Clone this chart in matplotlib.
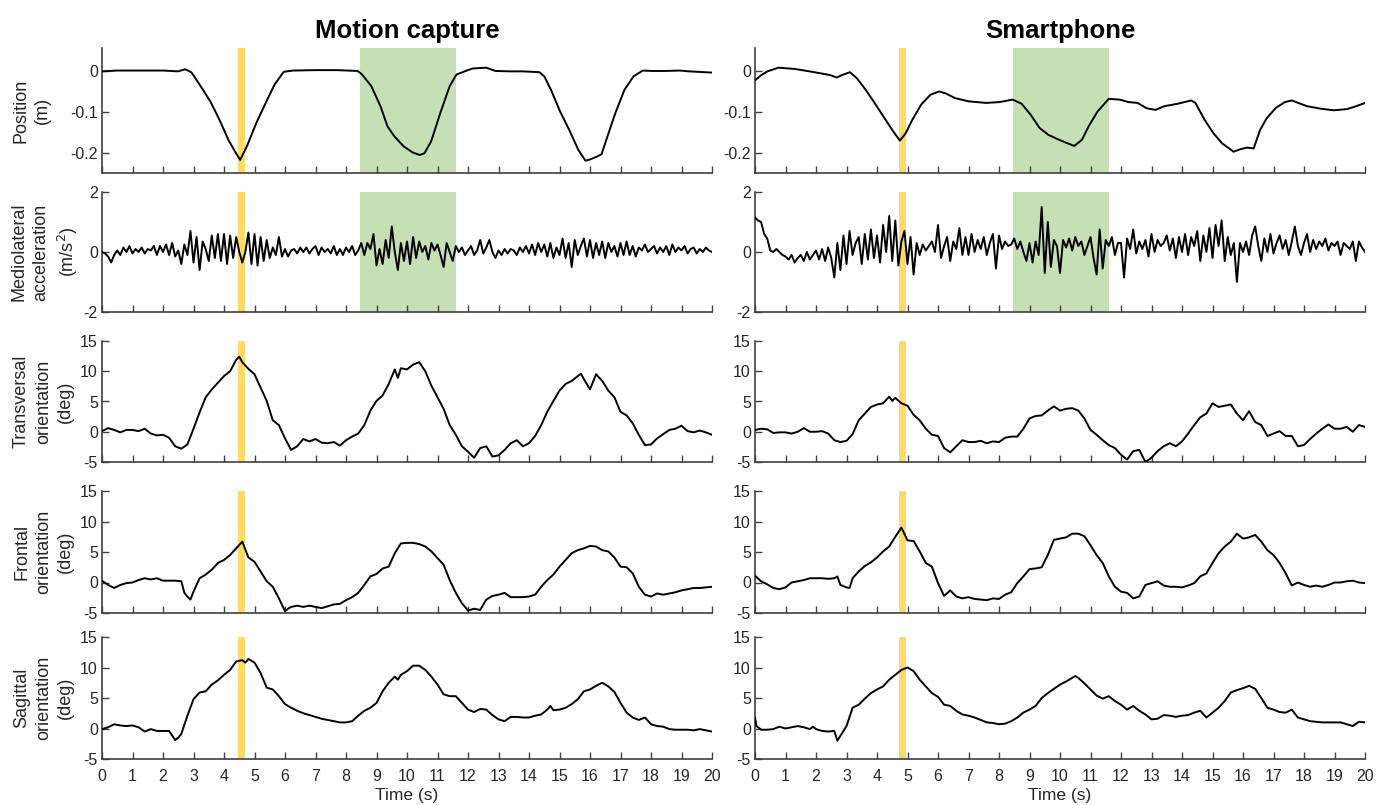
import matplotlib
matplotlib.use("Agg")
import matplotlib.pyplot as plt
import numpy as np

plt.rcParams['font.family'] = ['Liberation Sans', 'DejaVu Sans']

# ---- data ----
# position (m), non-uniform time points
mc_pos_t = [0, 0.5, 1, 1.5, 2, 2.5, 2.72, 2.82, 2.94, 3.25, 3.55, 3.85, 4.15, 4.38, 4.53, 4.75, 5.06,
            5.36, 5.66, 5.96, 6.26, 7.0, 7.7, 8.38, 8.53, 8.83, 9.13, 9.36, 9.58, 9.89, 10.19, 10.42,
            10.57, 10.79, 11.09, 11.4, 11.62, 11.85, 12.15, 12.6, 12.9, 13.36, 13.8, 14.34, 14.5, 14.72,
            15.02, 15.32, 15.62, 15.85, 16.0, 16.23, 16.38, 16.53, 16.83, 17.13, 17.43, 17.73, 18.04,
            18.49, 18.94, 19.25, 20.0]
mc_pos = [-0.002, 0.0, 0.0, 0.0, 0.0, -0.002, 0.003, 0.0, -0.005, -0.04, -0.075, -0.12, -0.17, -0.2,
          -0.218, -0.185, -0.128, -0.08, -0.034, -0.003, 0.0, 0.001, 0.001, -0.001, -0.01, -0.038, -0.087,
          -0.136, -0.16, -0.185, -0.2, -0.206, -0.202, -0.173, -0.104, -0.038, -0.01, -0.003, 0.005,
          0.007, -0.001, -0.002, -0.002, -0.004, -0.014, -0.047, -0.1, -0.145, -0.194, -0.22, -0.217,
          -0.21, -0.204, -0.17, -0.104, -0.047, -0.014, 0.0, -0.001, -0.001, 0.0, -0.002, -0.005]

sp_pos_t = [0, 0.19, 0.41, 0.77, 1.29, 1.87, 2.46, 2.68, 2.82, 3.11, 3.33, 3.63, 3.92, 4.21, 4.5, 4.75,
            4.94, 5.16, 5.45, 5.75, 6.04, 6.26, 6.55, 6.99, 7.57, 8.01, 8.45, 8.74, 9.04, 9.33, 9.62,
            9.91, 10.2, 10.47, 10.72, 10.94, 11.23, 11.6, 11.96, 12.25, 12.54, 12.84, 13.13, 13.42,
            13.86, 14.3, 14.44, 14.74, 15.03, 15.32, 15.69, 15.91, 16.13, 16.35, 16.56, 16.78, 17.08,
            17.37, 17.6, 17.81, 18.1, 18.54, 18.98, 19.42, 19.71, 20.0]
sp_pos = [-0.024, -0.012, -0.002, 0.007, 0.004, -0.003, -0.011, -0.017, -0.012, -0.004, -0.018, -0.047,
          -0.079, -0.112, -0.145, -0.171, -0.153, -0.12, -0.083, -0.059, -0.051, -0.056, -0.067, -0.075,
          -0.079, -0.077, -0.071, -0.081, -0.108, -0.14, -0.157, -0.167, -0.176, -0.184, -0.169, -0.136,
          -0.1, -0.069, -0.071, -0.077, -0.079, -0.092, -0.096, -0.087, -0.081, -0.073, -0.079, -0.12,
          -0.153, -0.178, -0.198, -0.192, -0.188, -0.19, -0.145, -0.116, -0.091, -0.077, -0.073, -0.079,
          -0.087, -0.093, -0.097, -0.094, -0.087, -0.079]

# mediolateral acceleration (m/s^2), every 0.1 s from 0 to 20 s
acc_t = np.arange(201) / 10
mc_acc = [0.0, -0.05, -0.15, -0.35, -0.1, 0.05, -0.1, 0.15, 0.0, 0.2,
          -0.05, 0.1, 0.0, 0.15, -0.05, 0.1, 0.05, 0.2, -0.1, 0.2,
          0.0, 0.25, -0.1, 0.3, -0.15, 0.05, -0.4, 0.25, -0.1, 0.7,
          -0.35, 0.5, -0.6, 0.35, 0.1, -0.3, 0.55, -0.2, 0.6, -0.3,
          0.6, -0.4, 0.55, -0.2, 0.5, 0.0, -0.35, 0.0, 0.65, -0.4,
          0.6, -0.45, 0.5, -0.3, 0.4, -0.2, 0.15, -0.1, 0.5, -0.15,
          0.1, -0.15, 0.05, 0.1, -0.05, 0.15, 0.0, 0.15, -0.05, 0.1,
          0.2, -0.1, 0.15, 0.0, 0.1, -0.05, 0.2, -0.1, 0.1, -0.1,
          0.15, 0.0, 0.2, -0.1, 0.05, 0.3, -0.1, 0.3, 0.1, 0.6,
          -0.45, 0.1, -0.4, 0.4, -0.2, 0.85, 0.0, -0.6, 0.3, -0.3,
          0.35, -0.4, 0.5, -0.2, 0.35, 0.0, 0.2, -0.25, 0.3, 0.05,
          0.25, -0.1, -0.5, 0.3, 0.0, -0.3, 0.2, 0.0, 0.15, -0.1,
          0.05, 0.2, -0.1, 0.05, 0.4, -0.05, 0.15, 0.4, 0.0, -0.2,
          0.05, -0.1, 0.1, -0.05, 0.1, 0.05, -0.1, 0.15, 0.0, 0.2,
          -0.05, 0.25, -0.1, 0.3, 0.0, 0.25, -0.15, 0.3, -0.2, 0.15,
          -0.1, 0.45, -0.2, 0.3, -0.5, 0.4, -0.1, 0.2, 0.45, -0.15,
          0.4, -0.2, 0.3, -0.1, 0.35, -0.2, 0.3, 0.0, 0.2, -0.15,
          0.3, -0.1, 0.35, -0.1, 0.2, -0.15, 0.15, 0.05, 0.25, 0.0,
          0.1, 0.2, -0.05, 0.15, 0.0, 0.2, -0.1, 0.25, 0.0, 0.15,
          0.05, 0.2, -0.05, 0.1, 0.15, -0.05, 0.1, 0.0, 0.15, 0.05,
          0.0]
sp_acc = [1.15, 1.05, 1.0, 0.6, 0.45, 0.05, 0.0, 0.1, 0.0, -0.1,
          -0.15, -0.25, -0.1, -0.35, -0.2, -0.1, -0.3, 0.0, -0.25, -0.1,
          0.05, -0.25, 0.1, -0.3, 0.15, -0.2, -0.85, 0.3, -0.6, 0.55,
          -0.4, 0.7, -0.1, 0.3, 0.5, -0.4, 0.6, -0.25, 0.75, -0.2,
          0.55, -0.35, 0.9, 0.0, 1.2, -0.3, 1.05, -0.45, 0.35, 0.7,
          -0.4, 0.5, -0.75, 0.3, -0.1, 0.25, 0.05, 0.2, 0.35, 0.0,
          0.9, -0.2, 0.2, 0.5, -0.3, 0.35, 0.1, 0.8, -0.1, 0.5,
          -0.1, 0.6, 0.0, 0.4, 0.1, 0.5, -0.1, 0.3, 0.6, -0.55,
          0.55, 0.1, 0.35, 0.2, 0.25, 0.45, 0.1, 0.35, 0.0, -0.3,
          0.3, -0.35, 0.35, -0.1, 1.5, -0.7, 1.0, -0.5, 0.4, 0.2,
          -0.7, 0.4, 0.15, 0.45, 0.05, 0.5, 0.2, 0.35, -0.1, 0.2,
          0.5, -0.2, -0.75, 0.75, -0.55, 0.4, 0.2, 0.5, -0.1, 0.3,
          0.3, -0.85, 0.45, 0.1, 0.75, -0.05, 0.35, 0.1, 0.4, -0.15,
          0.6, 0.0, 0.4, 0.2, 0.3, 0.55, 0.05, 0.45, -0.2, 0.5,
          0.0, 0.6, -0.1, 0.5, 0.2, 0.7, -0.3, 0.55, 0.0, 0.8,
          -0.2, 0.9, 0.2, 1.05, -0.3, 0.5, -0.1, 0.3, -1.0, 0.3,
          0.0, 0.35, -0.1, 0.55, 0.85, 0.2, -0.3, 0.45, 0.0, 0.6,
          -0.05, 0.3, 0.55, 0.1, 0.4, -0.1, 0.35, 0.85, 0.2, -0.1,
          0.3, 0.6, 0.0, 0.4, 0.1, 0.35, 0.2, 0.45, 0.05, 0.3,
          0.2, 0.35, -0.1, 0.3, 0.2, 0.1, 0.35, -0.3, 0.35, 0.15,
          0.0]

# orientations (deg)
mc_tr_t = [0, 0.2, 0.4, 0.6, 0.8, 1.0, 1.2, 1.4, 1.6, 1.8, 2.0, 2.2, 2.4, 2.6, 2.8, 3.0, 3.2, 3.4, 3.6,
           3.8, 4.0, 4.2, 4.4, 4.5, 4.6, 4.8, 5.0, 5.2, 5.4, 5.6, 5.8, 6.0, 6.2, 6.4, 6.6, 6.8, 7.0, 7.2,
           7.4, 7.6, 7.8, 8.0, 8.2, 8.4, 8.6, 8.8, 9.0, 9.2, 9.4, 9.6, 9.7, 9.8, 10.0, 10.2, 10.4, 10.6,
           10.8, 11.0, 11.2, 11.4, 11.6, 11.8, 12.0, 12.2, 12.4, 12.6, 12.8, 13.0, 13.2, 13.4, 13.6, 13.8,
           14.0, 14.2, 14.4, 14.6, 14.8, 15.0, 15.2, 15.4, 15.6, 15.7, 15.8, 16.0, 16.2, 16.4, 16.6, 16.8,
           17.0, 17.2, 17.4, 17.6, 17.8, 18.0, 18.2, 18.4, 18.6, 18.8, 19.0, 19.2, 19.4, 19.6, 19.8, 20.0]
mc_tr = [0.1, 0.6, 0.3, -0.1, 0.3, 0.3, 0.1, 0.5, -0.3, -0.6, -0.5, -1.0, -2.4, -2.8, -2.1, 0.5, 3.2,
         5.7, 7.0, 8.1, 9.2, 10.0, 11.9, 12.4, 11.5, 10.4, 9.5, 7.3, 5.1, 1.9, 1.1, -1.1, -3.0, -2.4,
         -1.2, -1.6, -1.2, -1.8, -1.9, -1.7, -2.3, -1.4, -0.8, -0.3, 1.1, 3.5, 5.1, 6.0, 7.9, 10.3, 8.9,
         10.5, 10.3, 11.1, 11.5, 10.0, 7.6, 5.7, 3.8, 1.1, -0.5, -2.4, -3.3, -4.3, -2.7, -2.4, -4.1,
         -3.9, -3.0, -1.9, -1.4, -2.4, -1.9, -0.7, 1.1, 3.3, 5.1, 6.8, 7.9, 8.4, 9.2, 9.6, 8.7, 7.0,
         9.5, 8.4, 6.8, 5.7, 3.3, 2.7, 1.4, -0.5, -2.2, -2.1, -1.1, -0.4, 0.3, 0.5, 1.0, 0.1, -0.1, 0.2,
         -0.1, -0.5]

mc_fr_t = [0, 0.2, 0.4, 0.6, 0.8, 1.0, 1.2, 1.4, 1.6, 1.8, 2.0, 2.2, 2.4, 2.6, 2.7, 2.8, 2.9, 3.0, 3.2,
           3.4, 3.6, 3.8, 4.0, 4.2, 4.4, 4.6, 4.8, 5.0, 5.2, 5.4, 5.6, 5.8, 6.0, 6.1, 6.2, 6.4, 6.6, 6.8,
           7.0, 7.2, 7.4, 7.6, 7.8, 8.0, 8.2, 8.4, 8.6, 8.8, 9.0, 9.2, 9.4, 9.6, 9.8, 10.0, 10.2, 10.4,
           10.6, 10.8, 11.0, 11.2, 11.4, 11.6, 11.8, 12.0, 12.2, 12.4, 12.6, 12.8, 13.0, 13.2, 13.4, 13.6,
           13.8, 14.0, 14.2, 14.4, 14.6, 14.8, 15.0, 15.2, 15.4, 15.6, 15.8, 16.0, 16.2, 16.4, 16.6, 16.8,
           17.0, 17.2, 17.4, 17.6, 17.8, 18.0, 18.2, 18.4, 18.6, 18.8, 19.0, 19.2, 19.4, 19.6, 19.8, 20.0]
mc_fr = [0.3, -0.4, -0.9, -0.4, -0.1, 0.0, 0.4, 0.7, 0.5, 0.7, 0.3, 0.3, 0.3, 0.2, -1.7, -2.3, -2.8,
         -1.5, 0.7, 1.3, 2.1, 3.2, 3.7, 4.5, 5.6, 6.7, 4.1, 3.4, 1.8, 0.2, -0.7, -2.6, -4.7, -4.3, -4.0,
         -3.8, -4.0, -3.8, -4.0, -4.2, -3.9, -3.6, -3.5, -2.9, -2.4, -1.7, -0.4, 1.0, 1.4, 2.3, 2.6, 4.8,
         6.4, 6.5, 6.5, 6.3, 5.9, 5.1, 4.0, 2.9, 0.4, -1.7, -3.4, -4.6, -4.3, -4.5, -2.8, -2.2, -2.0,
         -1.7, -2.4, -2.4, -2.4, -2.3, -2.0, -0.7, 0.4, 1.3, 2.6, 3.7, 4.8, 5.3, 5.6, 6.0, 5.9, 5.3, 5.1,
         4.1, 2.6, 2.5, 1.5, -0.7, -2.0, -2.3, -1.8, -2.0, -1.8, -1.6, -1.3, -1.1, -0.9, -0.9, -0.8, -0.7]

mc_sa_t = [0, 0.2, 0.4, 0.6, 0.8, 1.0, 1.2, 1.4, 1.6, 1.8, 2.0, 2.2, 2.4, 2.5, 2.6, 2.8, 3.0, 3.2, 3.4,
           3.6, 3.8, 4.0, 4.2, 4.4, 4.6, 4.7, 4.8, 5.0, 5.2, 5.4, 5.6, 5.8, 6.0, 6.2, 6.4, 6.6, 6.8, 7.0,
           7.2, 7.4, 7.6, 7.8, 8.0, 8.2, 8.4, 8.6, 8.8, 9.0, 9.2, 9.4, 9.6, 9.7, 9.8, 10.0, 10.2, 10.4,
           10.6, 10.8, 11.0, 11.2, 11.4, 11.6, 11.8, 12.0, 12.2, 12.4, 12.6, 12.8, 13.0, 13.2, 13.4, 13.6,
           13.8, 14.0, 14.2, 14.4, 14.6, 14.7, 14.8, 15.0, 15.2, 15.4, 15.6, 15.8, 16.0, 16.2, 16.4, 16.6,
           16.8, 17.0, 17.2, 17.4, 17.6, 17.8, 18.0, 18.2, 18.4, 18.6, 18.8, 19.0, 19.2, 19.4, 19.6, 19.8,
           20.0]
mc_sa = [-0.1, 0.2, 0.7, 0.5, 0.4, 0.5, 0.2, -0.5, -0.1, -0.4, -0.4, -0.4, -1.9, -1.5, -0.9, 2.1, 4.8,
         5.9, 6.1, 7.2, 7.9, 8.8, 9.6, 11.0, 11.2, 10.8, 11.4, 10.8, 9.1, 6.7, 6.4, 5.3, 4.0, 3.4, 2.9,
         2.5, 2.2, 1.9, 1.6, 1.4, 1.2, 1.0, 1.0, 1.2, 2.1, 2.9, 3.4, 4.2, 6.1, 7.5, 8.5, 8.0, 8.8, 9.4,
         10.3, 10.3, 9.6, 8.5, 7.2, 5.6, 5.3, 5.3, 4.2, 3.1, 2.7, 3.2, 3.1, 2.2, 1.5, 1.2, 1.9, 1.9, 1.8,
         1.8, 2.1, 2.3, 3.1, 3.7, 3.0, 3.1, 3.4, 4.0, 4.8, 6.1, 6.4, 7.0, 7.5, 6.9, 6.0, 4.2, 2.6, 1.8,
         1.4, 1.8, 0.7, 0.4, 0.3, -0.1, -0.2, -0.2, -0.2, -0.3, -0.1, -0.3, -0.5]

sp_tr_t = [0, 0.2, 0.4, 0.6, 0.8, 1.0, 1.2, 1.4, 1.6, 1.8, 2.0, 2.2, 2.4, 2.6, 2.8, 3.0, 3.2, 3.4, 3.6,
           3.8, 4.0, 4.2, 4.4, 4.5, 4.6, 4.8, 5.0, 5.2, 5.4, 5.6, 5.8, 6.0, 6.2, 6.4, 6.6, 6.8, 7.0, 7.2,
           7.4, 7.6, 7.8, 8.0, 8.2, 8.4, 8.6, 8.8, 9.0, 9.2, 9.4, 9.6, 9.8, 10.0, 10.2, 10.4, 10.6, 10.8,
           11.0, 11.2, 11.4, 11.6, 11.8, 12.0, 12.2, 12.4, 12.6, 12.8, 13.0, 13.2, 13.4, 13.6, 13.8, 14.0,
           14.2, 14.4, 14.6, 14.8, 15.0, 15.2, 15.4, 15.6, 15.8, 16.0, 16.2, 16.4, 16.6, 16.8, 17.0, 17.2,
           17.4, 17.6, 17.8, 18.0, 18.2, 18.4, 18.6, 18.8, 19.0, 19.2, 19.4, 19.6, 19.8, 20.0]
sp_tr = [0.3, 0.5, 0.4, -0.2, -0.1, -0.1, -0.3, 0.0, 0.6, 0.0, 0.0, 0.1, -0.3, -1.4, -1.7, -1.5, -0.4,
         1.9, 3.0, 4.1, 4.5, 4.7, 5.8, 5.1, 5.6, 4.7, 4.3, 2.8, 1.9, 0.5, -0.5, -0.7, -2.7, -3.4, -2.4,
         -1.4, -1.7, -1.7, -1.5, -1.9, -1.6, -1.7, -1.0, -0.8, -0.8, 0.5, 2.2, 2.6, 2.7, 3.5, 4.2, 3.5,
         3.8, 3.9, 3.5, 2.2, 0.3, -0.5, -1.4, -2.2, -2.7, -3.8, -4.6, -3.2, -3.0, -5.0, -4.3, -3.2, -2.4,
         -1.9, -2.4, -1.6, -0.3, 1.1, 2.4, 3.0, 4.7, 4.1, 4.3, 4.5, 3.0, 1.9, 3.4, 1.6, 1.1, -0.7, -0.3,
         0.1, -0.7, -0.7, -2.4, -2.2, -1.2, -0.3, 0.5, 1.2, 0.5, 0.5, 0.8, 0.0, 1.1, 0.8]

sp_fr_t = [0, 0.2, 0.4, 0.6, 0.8, 1.0, 1.2, 1.4, 1.6, 1.8, 2.0, 2.2, 2.4, 2.6, 2.7, 2.8, 3.0, 3.1, 3.2,
           3.4, 3.6, 3.8, 4.0, 4.2, 4.4, 4.6, 4.8, 5.0, 5.2, 5.4, 5.6, 5.8, 6.0, 6.2, 6.4, 6.6, 6.8, 7.0,
           7.2, 7.4, 7.6, 7.8, 8.0, 8.2, 8.4, 8.6, 8.8, 9.0, 9.2, 9.4, 9.6, 9.8, 10.0, 10.2, 10.4, 10.6,
           10.8, 11.0, 11.2, 11.4, 11.6, 11.8, 12.0, 12.2, 12.4, 12.6, 12.8, 13.0, 13.2, 13.4, 13.6, 13.8,
           14.0, 14.2, 14.4, 14.6, 14.8, 15.0, 15.2, 15.4, 15.6, 15.8, 16.0, 16.2, 16.4, 16.6, 16.8, 17.0,
           17.2, 17.4, 17.6, 17.8, 18.0, 18.2, 18.4, 18.6, 18.8, 19.0, 19.2, 19.4, 19.6, 19.8, 20.0]
sp_fr = [1.1, 0.2, -0.3, -0.9, -1.1, -0.8, 0.0, 0.2, 0.4, 0.7, 0.7, 0.7, 0.6, 0.7, 1.0, -0.4, -0.8,
         -0.9, 0.7, 1.8, 2.7, 3.3, 4.1, 5.1, 5.9, 7.5, 9.0, 6.9, 6.8, 5.1, 3.2, 2.6, -0.1, -2.2, -1.3,
         -2.3, -2.6, -2.4, -2.7, -2.8, -2.9, -2.6, -2.7, -2.0, -1.6, -0.1, 1.0, 2.2, 2.3, 2.5, 4.5, 7.0,
         7.2, 7.4, 8.0, 8.0, 7.6, 6.1, 4.5, 3.2, 1.0, -0.7, -1.5, -1.7, -2.6, -2.3, -0.4, -0.1, 0.2,
         -0.5, -0.7, -0.7, -0.8, -0.5, -0.1, 1.0, 1.5, 3.2, 4.8, 5.9, 6.7, 8.0, 7.2, 7.4, 7.8, 6.7, 5.3,
         4.5, 3.2, 1.5, -0.5, 0.0, -0.4, -0.7, -0.5, -0.7, -0.4, 0.0, 0.0, 0.2, 0.3, 0.0, -0.1]

sp_sa_t = [0, 0.05, 0.2, 0.4, 0.6, 0.8, 1.0, 1.2, 1.4, 1.6, 1.8, 1.9, 2.0, 2.2, 2.4, 2.6, 2.7, 2.8, 3.0,
           3.2, 3.4, 3.6, 3.8, 4.0, 4.2, 4.4, 4.6, 4.8, 5.0, 5.2, 5.4, 5.6, 5.8, 6.0, 6.2, 6.4, 6.6, 6.8,
           7.0, 7.2, 7.4, 7.6, 7.8, 8.0, 8.2, 8.4, 8.6, 8.8, 9.0, 9.2, 9.4, 9.6, 9.8, 10.0, 10.2, 10.4,
           10.5, 10.6, 10.8, 11.0, 11.2, 11.4, 11.6, 11.8, 12.0, 12.2, 12.4, 12.6, 12.8, 13.0, 13.2, 13.4,
           13.6, 13.8, 14.0, 14.2, 14.4, 14.6, 14.8, 15.0, 15.2, 15.4, 15.6, 15.8, 16.0, 16.2, 16.4, 16.6,
           16.8, 17.0, 17.2, 17.4, 17.6, 17.8, 18.0, 18.2, 18.4, 18.6, 18.8, 19.0, 19.2, 19.4, 19.6, 19.8,
           20.0]
sp_sa = [1.8, 0.4, -0.2, -0.2, -0.1, 0.3, 0.0, 0.2, 0.4, 0.2, -0.1, 0.3, -0.1, -0.4, -0.5, -0.4, -2.0,
         -1.2, 0.4, 3.4, 3.9, 4.9, 5.8, 6.4, 6.9, 8.0, 8.8, 9.6, 10.0, 9.4, 8.0, 6.9, 5.8, 5.2, 3.9, 3.7,
         2.9, 2.3, 2.1, 1.8, 1.4, 1.0, 0.9, 0.7, 0.8, 1.2, 1.8, 2.6, 3.1, 3.7, 5.0, 5.8, 6.5, 7.2, 7.7,
         8.3, 8.6, 8.3, 7.4, 6.4, 5.4, 4.9, 5.3, 4.5, 3.9, 3.1, 3.7, 2.9, 2.3, 1.5, 1.6, 2.2, 2.1, 1.9,
         2.1, 2.2, 2.6, 2.9, 1.8, 2.6, 3.4, 4.5, 5.9, 6.3, 6.6, 7.0, 6.5, 5.0, 3.4, 3.1, 2.7, 2.6, 3.1,
         1.8, 1.5, 1.2, 1.1, 1.0, 1.0, 1.0, 1.0, 0.7, 0.4, 1.1, 1.0]

# event markers
heel_strike = [4.56, 4.82]   # yellow line, motion capture / smartphone
turn_window = (8.45, 11.62)  # green band

titles = ["Motion capture", "Smartphone"]
ylabels = ["Position\n(m)", "Mediolateral\nacceleration\n(m/s$^2$)", "Transversal\norientation\n(deg)",
           "Frontal\norientation\n(deg)", "Sagittal\norientation\n(deg)"]

series = [
    [(mc_pos_t, mc_pos), (acc_t, mc_acc), (mc_tr_t, mc_tr), (mc_fr_t, mc_fr), (mc_sa_t, mc_sa)],
    [(sp_pos_t, sp_pos), (acc_t, sp_acc), (sp_tr_t, sp_tr), (sp_fr_t, sp_fr), (sp_sa_t, sp_sa)],
]

# ---- figure ----
W, H = 1376, 805
fig = plt.figure(figsize=(W / 100, H / 100), dpi=100)

col_px = [(102, 712), (755, 1365)]
row_px = [(48, 173), (192, 312), (341, 462), (491, 613), (637, 759)]
ylims = [(-0.25, 0.055), (-2, 2), (-5, 15), (-5, 15), (-5, 15)]
yticks = [[-0.2, -0.1, 0], [-2, 0, 2], [-5, 0, 5, 10, 15], [-5, 0, 5, 10, 15], [-5, 0, 5, 10, 15]]
ytl = [["-0.2", "-0.1", "0"], ["-2", "0", "2"]] + [["-5", "0", "5", "10", "15"]] * 3
ylab_right = [51, 80, 74, 74, 74]   # right edge of each y label, px

txt = "#262626"
ax_col = "#404040"
for c in range(2):
    x0, x1 = col_px[c]
    for r in range(5):
        y0, y1 = row_px[r]
        ax = fig.add_axes([x0 / W, 1 - y1 / H, (x1 - x0) / W, (y1 - y0) / H])
        t, v = series[c][r]
        if r < 2:
            ax.axvspan(turn_window[0], turn_window[1], color="#c5e0b4", lw=0, zorder=0)
        ax.axvline(heel_strike[c], color="#ffd966", lw=5, zorder=1)
        ax.plot(t, v, color="black", lw=1.4, zorder=3)
        ax.set_xlim(0, 20)
        ax.set_ylim(*ylims[r])
        ax.set_xticks(range(21))
        ax.set_yticks(yticks[r])
        ax.set_yticklabels(ytl[r])
        ax.tick_params(direction="in", length=5, width=1, color=ax_col, labelsize=11.5,
                       labelcolor=txt, pad=3)
        ax.tick_params(axis="x", pad=7)
        for s in ["top", "right"]:
            ax.spines[s].set_visible(False)
        for s in ["left", "bottom"]:
            ax.spines[s].set_color(ax_col)
            ax.spines[s].set_linewidth(1.2)
        ax.set_facecolor("none")
        if r < 4:
            ax.tick_params(labelbottom=False)
        else:
            ax.set_xlabel("Time (s)", fontsize=12.5, color=txt, labelpad=3)
        if c == 0:
            ax.set_ylabel(ylabels[r], fontsize=13, color=txt, linespacing=1.38)
            ax.yaxis.set_label_coords((ylab_right[r] - x0) / (x1 - x0), 0.5)
        if r == 0:
            ax.set_title(titles[c], fontsize=18.5, fontweight="bold", color="black", pad=7)

fig.savefig("out.png", dpi=100)
